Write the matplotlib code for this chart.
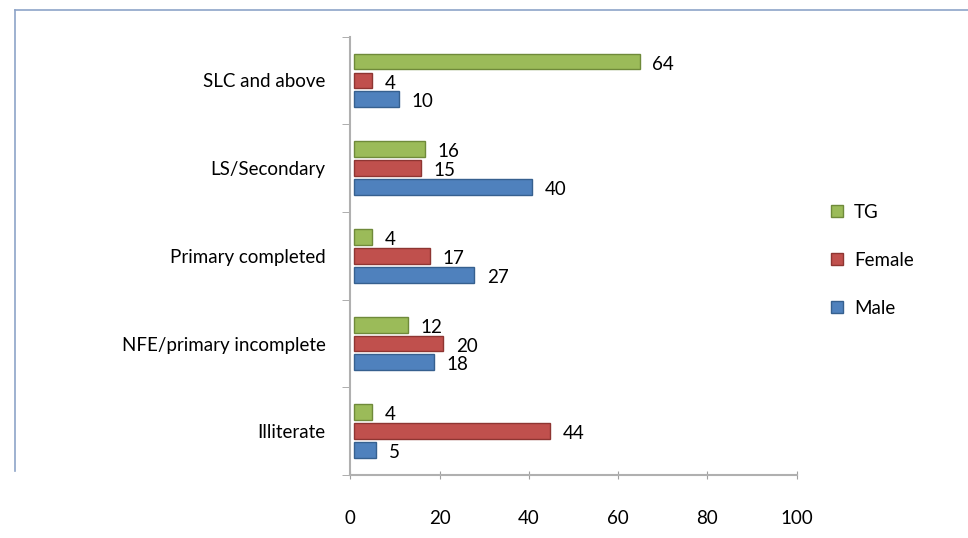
import matplotlib.pyplot as plt
from matplotlib.lines import Line2D
import numpy as np

plt.rcParams['font.family'] = ['Lato', 'DejaVu Sans']

categories = ['Illiterate', 'NFE/primary incomplete', 'Primary completed',
              'LS/Secondary', 'SLC and above']
male = [5, 18, 27, 40, 10]
female = [44, 20, 17, 15, 4]
tg = [4, 12, 4, 16, 64]

series = [('Male', male, '#4F81BD', '#36608F'),
          ('Female', female, '#C0504D', '#8E3532'),
          ('TG', tg, '#9BBB59', '#6F8A3A')]

fig = plt.figure(figsize=(9.68, 5.38), dpi=100)
ax = fig.add_axes([0.362, 0.117, 0.461, 0.815])

y = np.arange(len(categories))
step = 0.215
h = 0.18
for i, (name, vals, col, edge) in enumerate(series):
    pos = y + (i - 1) * step
    ax.barh(pos, vals, height=h, color=col, edgecolor=edge, linewidth=1.0,
            label=name, left=0.8)
    for p, v in zip(pos, vals):
        ax.text(v + 3.6, p - 0.03, str(v), va='center', ha='left', fontsize=13.5)

ax.set_xlim(0, 100)
ax.set_ylim(-0.5, len(categories) - 0.5)
ax.set_xticks([0, 20, 40, 60, 80, 100])
ax.set_yticks(y)
ax.set_yticklabels(categories, fontsize=13.5)
ax.set_yticks(np.arange(-0.5, len(categories), 1.0), minor=True)
ax.tick_params(axis='y', which='major', length=0, pad=18)
ax.tick_params(axis='y', which='minor', length=6, direction='out', color='#A0A0A0')
ax.tick_params(axis='x', length=6, direction='inout', color='#A0A0A0',
               labelsize=13.5, pad=22)

for s in ['top', 'right']:
    ax.spines[s].set_visible(False)
for s in ['left', 'bottom']:
    ax.spines[s].set_color('#B0B0B0')
    ax.spines[s].set_linewidth(1.5)

handles, labels = ax.get_legend_handles_labels()
ax.legend(handles[::-1], labels[::-1], loc='center left', bbox_to_anchor=(1.04, 0.49),
          frameon=False, fontsize=13.5, handlelength=0.6, handleheight=0.6,
          labelspacing=1.65, handletextpad=0.6)

# outer frame lines
fig.add_artist(Line2D([0.016, 1.0], [0.981, 0.981], color='#8EA4C8', lw=1.2))
fig.add_artist(Line2D([0.016, 0.016], [0.981, 0.125], color='#8EA4C8', lw=1.2))

fig.savefig('out.png', dpi=100)
